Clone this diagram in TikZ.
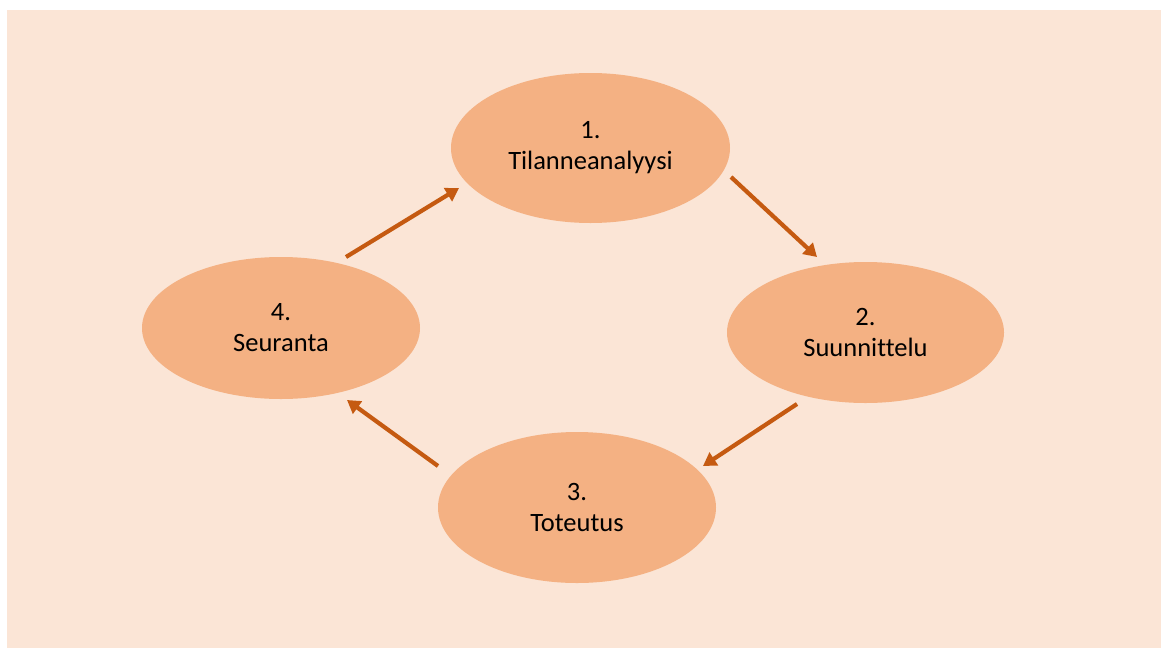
\documentclass[tikz,border=0pt]{standalone}
\usepackage{fontspec}
\setmainfont[Ligatures=NoCommon]{Carlito}
\usetikzlibrary{arrows.meta,shapes.geometric}
\definecolor{panel}{HTML}{FBE5D6}
\definecolor{oval}{HTML}{F4B183}
\definecolor{arrowc}{HTML}{C55A11}
\tikzset{
  stage/.style={ellipse, fill=oval, inner sep=0pt, align=center,
    font=\fontsize{26.5}{31}\selectfont, text=black},
  flow/.style={draw=arrowc, line width=4.2pt,
    -{Triangle[length=13pt,width=15pt]}, fill=arrowc}
}
\begin{document}
\begin{tikzpicture}[x=1pt,y=-1pt]
\useasboundingbox (0,0) rectangle (1161,648);
\fill[white] (0,0) rectangle (1161,648);
\fill[panel] (7,10) rectangle (1161,648);
\node[stage, minimum width=279pt, minimum height=150pt] (n1) at (590.5,148) {1.\\Tilanneanalyysi};
\node[stage, minimum width=277pt, minimum height=141pt] (n2) at (865.5,332.5) {2.\\Suunnittelu};
\node[stage, minimum width=278pt, minimum height=151pt] (n3) at (577,507.5) {3.\\Toteutus};
\node[stage, minimum width=278pt, minimum height=142pt] (n4) at (281,328) {4.\\Seuranta};
\coordinate (a41s) at (346,257);
\coordinate (a41e) at (459,188);
\coordinate (a12s) at (731,177);
\coordinate (a12e) at (817,257);
\coordinate (a23s) at (797,404);
\coordinate (a23e) at (703,466);
\coordinate (a34s) at (438,466);
\coordinate (a34e) at (347,400);
\draw[flow] (a41s) -- (a41e);
\draw[flow] (a12s) -- (a12e);
\draw[flow] (a23s) -- (a23e);
\draw[flow] (a34s) -- (a34e);
\end{tikzpicture}
\end{document}
